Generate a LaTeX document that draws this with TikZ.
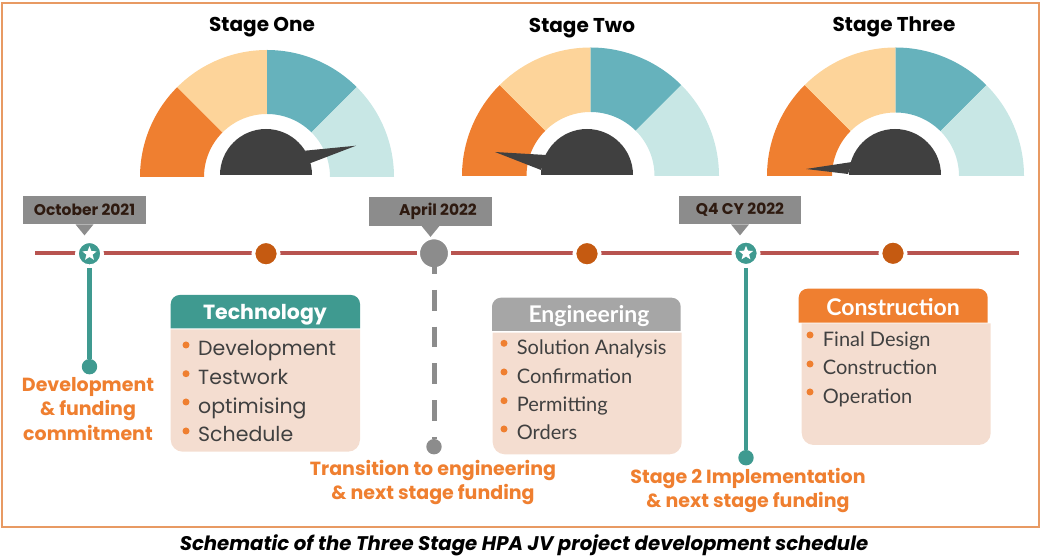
\documentclass[tikz,border=0pt]{standalone}
\usepackage{fontspec}
\setmainfont{Poppins}
\newfontfamily\latofont{Lato}
\usetikzlibrary{shapes.geometric}
\definecolor{frameorange}{HTML}{E89A63}
\definecolor{brandorange}{HTML}{EF7F30}
\definecolor{gaugesand}{HTML}{FDD49A}
\definecolor{gaugeteal}{HTML}{66B2BC}
\definecolor{gaugepale}{HTML}{C8E7E5}
\definecolor{gaugedark}{HTML}{404040}
\definecolor{lineteal}{HTML}{3F9A90}
\definecolor{linered}{HTML}{B85450}
\definecolor{dotorange}{HTML}{C55A11}
\definecolor{taggrey}{HTML}{8C8C8C}
\definecolor{headgrey}{HTML}{A6A6A6}
\definecolor{boxpeach}{HTML}{F4DDD0}
\definecolor{tagtext}{HTML}{2E1A10}
\tikzset{
  stagetitle/.style={font=\fontsize{20}{24}\selectfont\bfseries, text=black, inner sep=0pt},
  tagbox/.style={fill=taggrey, minimum width=122.4pt, minimum height=28.4pt, inner sep=0pt,
    font=\fontsize{15.5}{18}\selectfont\bfseries, text=tagtext},
  mark dot/.style={circle, draw=white, line width=3.8pt, fill=#1, minimum size=25.2pt, inner sep=0pt},
  end dot/.style={circle, fill=#1, minimum size=15.4pt, inner sep=0pt},
  whitestar/.style={star, star points=5, star point ratio=2.3, fill=white, minimum size=15pt, inner sep=0pt},
  notetext/.style={font=\fontsize{19}{24.5}\selectfont\bfseries, text=brandorange, align=center, inner sep=0pt},
  headtext/.style={font=\fontsize{20.5}{24}\selectfont\bfseries, text=white, inner sep=0pt},
  headlato/.style={font=\latofont\fontsize{23}{26}\selectfont\bfseries, text=white, inner sep=0pt},
  itemtext/.style={font=\fontsize{20.5}{24}\selectfont, text=gaugedark, anchor=base west, inner sep=0pt},
  itemlato/.style={font=\latofont\fontsize{20}{24}\selectfont, text=gaugedark, anchor=base west, inner sep=0pt},
  bulletdot/.style={circle, fill=brandorange, minimum size=7pt, inner sep=0pt},
}
\begin{document}
\begin{tikzpicture}[x=1pt,y=1pt]
\useasboundingbox (0,0) rectangle (1042,559);
\draw[frameorange, line width=2pt] (2,32) rectangle (1039,556);
%Gauge of stage one
\coordinate (g1) at (267,382);
\fill[brandorange] ([shift={(180:127)}]g1) arc (180:135:127) -- ([shift={(135:63)}]g1) arc (135:180:63) -- cycle;
\fill[gaugesand] ([shift={(135:127)}]g1) arc (135:90:127) -- ([shift={(90:63)}]g1) arc (90:135:63) -- cycle;
\fill[gaugeteal] ([shift={(90:127)}]g1) arc (90:45:127) -- ([shift={(45:63)}]g1) arc (45:90:63) -- cycle;
\fill[gaugepale] ([shift={(45:127)}]g1) arc (45:0:127) -- ([shift={(0:63)}]g1) arc (0:45:63) -- cycle;
\fill[gaugedark] (220,384) arc (180:0:46) -- cycle;
\fill[gaugedark] (305,408.3) -- (356,413.3) -- (310,395.7) -- cycle;
%Gauge of stage two
\coordinate (g2) at (590.5,383);
\fill[brandorange] ([shift={(180:128.5)}]g2) arc (180:135:128.5) -- ([shift={(135:64)}]g2) arc (135:180:64) -- cycle;
\fill[gaugesand] ([shift={(135:128.5)}]g2) arc (135:90:128.5) -- ([shift={(90:64)}]g2) arc (90:135:64) -- cycle;
\fill[gaugeteal] ([shift={(90:128.5)}]g2) arc (90:45:128.5) -- ([shift={(45:64)}]g2) arc (45:90:64) -- cycle;
\fill[gaugepale] ([shift={(45:128.5)}]g2) arc (45:0:128.5) -- ([shift={(0:64)}]g2) arc (0:45:64) -- cycle;
\fill[gaugedark] (541,384) arc (180:0:46) -- cycle;
\fill[gaugedark] (546,404) -- (495,407) -- (541,389) -- cycle;
%Gauge of stage three
\coordinate (g3) at (895.5,383);
\fill[brandorange] ([shift={(180:128.5)}]g3) arc (180:135:128.5) -- ([shift={(135:63.5)}]g3) arc (135:180:63.5) -- cycle;
\fill[gaugesand] ([shift={(135:128.5)}]g3) arc (135:90:128.5) -- ([shift={(90:63.5)}]g3) arc (90:135:63.5) -- cycle;
\fill[gaugeteal] ([shift={(90:128.5)}]g3) arc (90:45:128.5) -- ([shift={(45:63.5)}]g3) arc (45:90:63.5) -- cycle;
\fill[gaugepale] ([shift={(45:128.5)}]g3) arc (45:0:128.5) -- ([shift={(0:63.5)}]g3) arc (0:45:63.5) -- cycle;
\fill[gaugedark] (849,384) arc (180:0:46) -- cycle;
\fill[gaugedark] (852,397) -- (806,390) -- (848,385) -- cycle;
%Stage titles
\node[stagetitle] (one) at (262,532) {Stage One};
\node[stagetitle] (two) at (582,531) {Stage Two};
\node[stagetitle] (three) at (894,532) {Stage Three};
%Timeline and its marks
\coordinate (tlstart) at (35,306);
\coordinate (tlend) at (1019,306);
\draw[linered, line width=3.5pt] (tlstart) -- (tlend);
\node[mark dot=lineteal] (star1) at (89.5,305.3) {};
\node[whitestar] (s1) at (star1) {};
\node[mark dot=dotorange] (dot1) at (266,305.3) {};
\node[mark dot=taggrey, line width=3pt, minimum size=31pt] (apr) at (434,305.7) {};
\node[mark dot=dotorange] (dot2) at (587,305.3) {};
\node[mark dot=lineteal] (star2) at (746,305.7) {};
\node[whitestar] (s2) at (star2) {};
\node[mark dot=dotorange] (dot3) at (893,305.7) {};
%Date tags
\node[tagbox] (octtag) at (84.5,349) {October 2021};
\fill[taggrey] ([xshift=-9pt]octtag.south) -- ([xshift=9pt]octtag.south) -- ([yshift=-11pt]octtag.south) -- cycle;
\node[tagbox] (aprtag) at (430.5,347.5) {\hspace*{15pt}April 2022};
\fill[taggrey] ([xshift=-9pt]aprtag.south) -- ([xshift=9pt]aprtag.south) -- ([yshift=-11pt]aprtag.south) -- cycle;
\node[tagbox] (q4tag) at (740,349) {Q4 CY 2022};
\fill[taggrey] ([xshift=-9pt]q4tag.south) -- ([xshift=9pt]q4tag.south) -- ([yshift=-11pt]q4tag.south) -- cycle;
%Drop lines
\node[end dot=lineteal] (end1) at (89.5,192.3) {};
\node[end dot=taggrey] (end2) at (434,112.3) {};
\node[end dot=lineteal] (end3) at (746,101.3) {};
\draw[lineteal, line width=4.5pt] (star1) -- (end1);
\draw[taggrey, line width=5pt, dash pattern=on 20.7pt off 16pt] (apr.center) -- (end2);
\draw[lineteal, line width=4.5pt] (star2) -- (end3);
%Notes under the drop lines
\node[notetext] (note1) at (88,150) {Development\\\& funding\\commitment};
\node[notetext] (note2) at (433,76.5) {Transition to engineering\\\& next stage funding};
\node[notetext] (note3) at (748,68.5) {Stage 2 Implementation\\\& next stage funding};
%Technology box
\fill[boxpeach] (170.7,229.7) [rounded corners=12pt] -- (170.7,107.3) -- (360,107.3) [sharp corners] -- (360,229.7) -- cycle;
\fill[lineteal] (170.7,230.7) [rounded corners=9pt] -- (170.7,264) -- (360,264) [sharp corners] -- (360,230.7) -- cycle;
\node[headtext] (techhead) at (265,244.5) {Technology};
\node[bulletdot] (b11) at (186,214) {};
\node[bulletdot] (b12) at (186,185.3) {};
\node[bulletdot] (b13) at (186,157) {};
\node[bulletdot] (b14) at (186,128) {};
\node[itemtext] (t11) at (198,203.3) {Development};
\node[itemtext] (t12) at (198,174.7) {Testwork};
\node[itemtext] (t13) at (198,145.7) {optimising};
\node[itemtext] (t14) at (198,117.3) {Schedule};
%Engineering box
\fill[boxpeach] (492.7,226.3) [rounded corners=12pt] -- (492.7,104.7) -- (681.7,104.7) [sharp corners] -- (681.7,226.3) -- cycle;
\fill[headgrey] (492,228) [rounded corners=9pt] -- (492,261.3) -- (680.7,261.3) [sharp corners] -- (680.7,228) -- cycle;
\node[headlato] (enghead) at (589,242.5) {Engineering};
\node[bulletdot] (b21) at (504,215.7) {};
\node[bulletdot] (b22) at (504,187) {};
\node[bulletdot] (b23) at (504,158.3) {};
\node[bulletdot] (b24) at (504,130) {};
\node[itemlato] (t21) at (516.7,204) {Solution Analysis};
\node[itemlato] (t22) at (516.7,175.7) {Confirmation};
\node[itemlato] (t23) at (516.7,147.3) {Permitting};
\node[itemlato] (t24) at (516.7,119) {Orders};
%Construction box
\fill[boxpeach] (801.7,235.7) [rounded corners=12pt] -- (801.7,114) -- (990.7,114) [sharp corners] -- (990.7,235.7) -- cycle;
\fill[brandorange] (798.7,236.3) [rounded corners=9pt] -- (798.7,270.3) -- (987.7,270.3) [sharp corners] -- (987.7,236.3) -- cycle;
\node[headlato] (conhead) at (893,252) {Construction};
\node[bulletdot] (b31) at (810,224) {};
\node[bulletdot] (b32) at (810,195) {};
\node[bulletdot] (b33) at (810,167) {};
\node[itemlato] (t31) at (822.7,212.3) {Final Design};
\node[itemlato] (t32) at (822.7,184) {Construction};
\node[itemlato] (t33) at (822.7,155.7) {Operation};
%Caption
\node[font=\fontsize{19.7}{24}\selectfont\bfseries\itshape, text=black, inner sep=0pt] (caption) at (524,14) {Schematic of the Three Stage HPA JV project development schedule};
\end{tikzpicture}
\end{document}
